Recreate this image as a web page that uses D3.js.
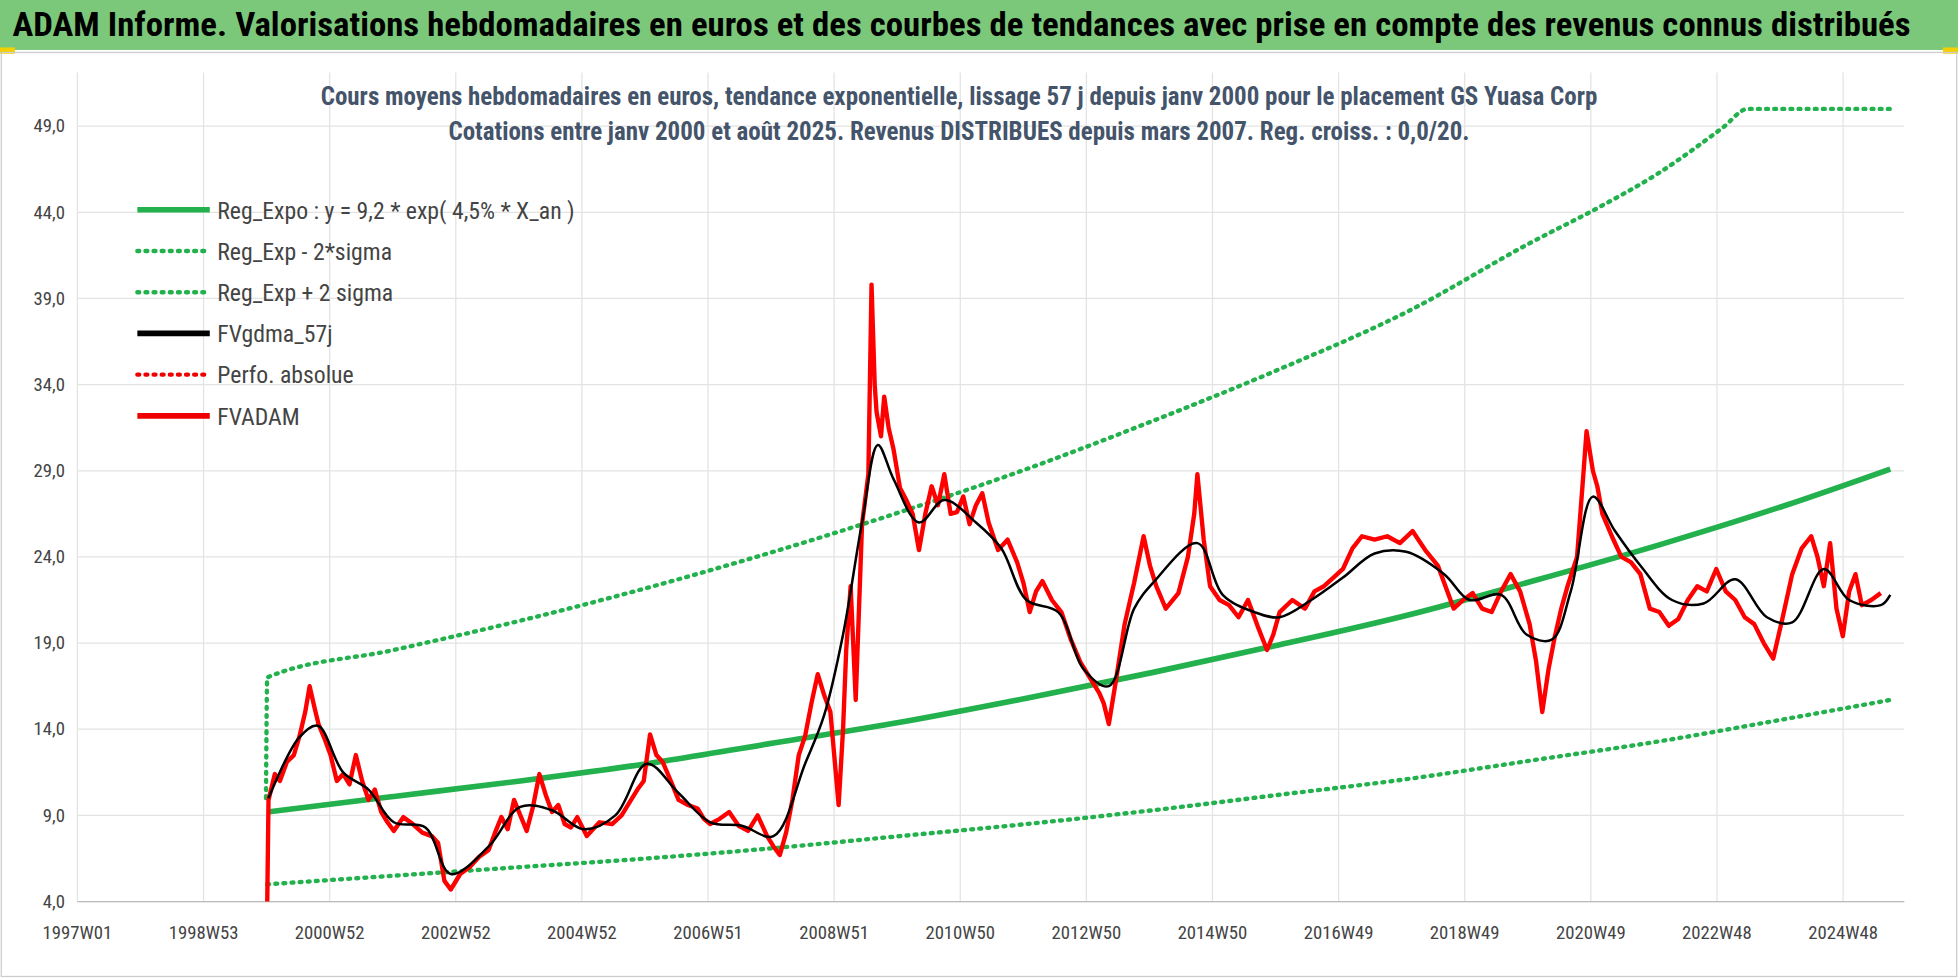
<!DOCTYPE html><html><head><meta charset="utf-8"><script src="https://d3js.org/d3.v7.min.js"></script>
<style>body{margin:0;background:#fff}text{font-family:"Liberation Sans Narrow","Roboto Condensed","Liberation Sans",sans-serif}</style></head><body>
<svg id="c" width="1958" height="978"></svg>
<script>
const xTickLabels=["1997W01","1998W53","2000W52","2002W52","2004W52","2006W51","2008W51","2010W50","2012W50","2014W50","2016W49","2018W49","2020W49","2022W48","2024W48"];
const yTicks=[4,9,14,19,24,29,34,39,44,49];
const redYears=[2000.0,2000.02,2000.12,2000.2,2000.31,2000.42,2000.51,2000.6,2000.67,2000.75,2000.81,2000.9,2001.0,2001.1,2001.2,2001.3,2001.4,2001.5,2001.6,2001.7,2001.8,2001.9,2002.0,2002.15,2002.3,2002.45,2002.6,2002.7,2002.8,2002.9,2003.05,2003.2,2003.35,2003.5,2003.6,2003.7,2003.8,2003.9,2004.0,2004.1,2004.2,2004.3,2004.4,2004.5,2004.6,2004.7,2004.8,2004.9,2005.05,2005.25,2005.45,2005.6,2005.75,2005.85,2005.95,2006.05,2006.15,2006.25,2006.4,2006.5,2006.65,2006.8,2006.9,2007.0,2007.15,2007.3,2007.45,2007.6,2007.75,2007.9,2008.0,2008.1,2008.2,2008.3,2008.4,2008.5,2008.6,2008.7,2008.8,2008.9,2009.03,2009.1,2009.15,2009.22,2009.3,2009.4,2009.5,2009.55,2009.6,2009.63,2009.7,2009.75,2009.82,2009.9,2010.0,2010.1,2010.2,2010.3,2010.4,2010.5,2010.6,2010.7,2010.8,2010.9,2011.0,2011.1,2011.2,2011.3,2011.4,2011.55,2011.7,2011.85,2011.95,2012.05,2012.15,2012.25,2012.4,2012.55,2012.7,2012.85,2013.0,2013.15,2013.22,2013.3,2013.42,2013.55,2013.7,2013.85,2013.95,2014.05,2014.2,2014.4,2014.55,2014.65,2014.7,2014.8,2014.9,2015.05,2015.2,2015.35,2015.5,2015.65,2015.8,2015.9,2016.0,2016.2,2016.4,2016.55,2016.7,2016.85,2017.0,2017.15,2017.3,2017.5,2017.7,2017.9,2018.1,2018.3,2018.5,2018.62,2018.75,2018.9,2019.05,2019.2,2019.35,2019.5,2019.65,2019.8,2019.95,2020.05,2020.15,2020.25,2020.35,2020.45,2020.55,2020.7,2020.8,2020.85,2020.95,2021.02,2021.1,2021.25,2021.4,2021.55,2021.7,2021.85,2022.0,2022.15,2022.3,2022.45,2022.6,2022.75,2022.9,2023.05,2023.2,2023.35,2023.5,2023.65,2023.8,2023.95,2024.1,2024.25,2024.4,2024.5,2024.6,2024.7,2024.8,2024.9,2025.0,2025.1,2025.2,2025.35,2025.5,2025.65];
const redValues=[4,9.9,11.4,11.0,12.1,12.5,13.6,15.0,16.5,15.2,14.3,13.5,12.5,11.0,11.4,10.8,12.5,11.0,9.9,10.5,9.2,8.6,8.1,8.9,8.5,8.0,7.8,7.4,5.2,4.7,5.6,6.0,6.6,7.0,8.0,8.9,8.2,9.9,9.0,8.1,9.5,11.4,10.2,9.2,9.6,8.5,8.3,8.9,7.8,8.6,8.5,9.0,9.9,10.5,11.0,13.7,12.5,12.1,10.8,9.9,9.6,9.4,8.8,8.5,8.8,9.2,8.4,8.1,9.0,7.8,7.2,6.7,8.0,9.9,12.5,13.6,15.5,17.2,16.0,15.0,9.6,14.0,18.6,22.3,15.7,25.9,28.8,39.8,34.0,32.4,31.0,33.3,31.5,30.2,28.0,27.3,26.5,24.4,26.5,28.1,27.0,28.8,26.5,26.6,27.5,25.9,27.0,27.7,26.0,24.4,25.0,23.7,22.5,20.8,22.0,22.6,21.5,20.8,19.2,17.9,17.0,16.1,15.5,14.3,17.0,20.1,22.5,25.2,23.5,22.3,21.0,21.9,24.0,26.5,28.8,25.0,22.3,21.5,21.2,20.5,21.5,20.0,18.6,19.5,20.8,21.5,21.0,22.0,22.3,22.8,23.3,24.5,25.2,25.0,25.2,24.8,25.5,24.4,23.5,22.3,21.0,21.5,21.9,21.0,20.8,22.0,23.0,22.0,20.1,18.0,15.0,17.5,19.4,21.0,22.3,24.0,28.8,31.3,29.0,28.1,26.5,25.2,24.0,23.7,23.0,21.0,20.8,20.0,20.4,21.5,22.3,22.0,23.3,22.0,21.5,20.5,20.1,19.0,18.1,20.5,23.0,24.5,25.2,24.0,22.3,24.8,21.0,19.4,22.0,23.0,21.2,21.5,21.9];
const blackYears=[2000.02,2000.5,2000.8,2001.2,2001.6,2002.0,2002.5,2002.9,2003.5,2004.0,2004.5,2005.0,2005.5,2006.0,2006.5,2007.0,2007.5,2008.0,2008.5,2008.8,2009.1,2009.4,2009.65,2009.9,2010.3,2010.7,2011.2,2011.6,2012.0,2012.5,2012.9,2013.3,2013.7,2014.0,2014.7,2015.1,2015.6,2016.0,2016.5,2017.0,2017.5,2018.0,2018.6,2019.0,2019.5,2019.9,2020.3,2020.6,2020.95,2021.3,2021.7,2022.2,2022.7,2023.2,2023.7,2024.1,2024.6,2025.0,2025.5,2025.65];
const blackValues=[10,13.5,14.2,11.5,10.5,8.6,8.3,5.6,7.2,9.5,9.3,8.2,9.0,12.0,10.3,8.6,8.4,7.8,12,14.8,19.5,26,30.5,28.5,26,27.3,26,24.5,21.5,20.8,17.5,16.5,21,22.5,24.8,21.8,20.8,20.5,21.5,22.8,24.2,24.3,23,21.5,21.8,19.5,19.2,22,27.5,25.5,23.5,21.5,21.3,22.7,20.5,20.2,23.3,21.5,21.2,21.8];
const trendYears=[2000,2002,2004,2006,2008,2010,2012,2014,2016,2018,2020,2022,2024,2025.65];
const trendValues=[9.2,10.1,11.0,12.0,13.2,14.4,15.8,17.3,18.9,20.6,22.6,24.7,27.0,29.1];
const lowValues=[5.0,5.5,6.0,6.5,7.1,7.8,8.5,9.3,10.2,11.1,12.2,13.3,14.6,15.7];
const highYears=[1999.98,2000,2002,2004,2006,2008,2010,2012,2014,2016,2018,2020,2021,2022,2023,2023.4,2024,2025.65];
const highValues=[10,17.0,18.6,20.3,22.2,24.3,26.6,29.1,31.9,34.9,38.2,42.3,44.2,46.3,48.9,50,50,50];
const legendItems=[["Reg_Expo : y = 9,2 * exp( 4,5% *  X_an )","#22b14c","solid"],["Reg_Exp - 2*sigma","#22b14c","dot"],["Reg_Exp + 2 sigma","#22b14c","dot"],["FVgdma_57j","#000","solid"],["Perfo. absolue","#e00","dot"],["FVADAM","#e00","solid"]];

const svg=d3.select("#c").append("g").attr("transform","scale(1.2487)");
svg.append("rect").attr("x",0).attr("y",0).attr("width",1568).attr("height",40).attr("fill","#7cc87a");
svg.append("rect").attr("x",0).attr("y",38).attr("width",12).attr("height",5).attr("fill","#f5d000");
svg.append("rect").attr("x",1556).attr("y",38).attr("width",12).attr("height",5).attr("fill","#f5d000");
svg.append("text").attr("x",10).attr("y",29).attr("font-size",27).attr("font-weight","bold").attr("fill","#000")
 .attr("textLength",1520).attr("lengthAdjust","spacingAndGlyphs")
 .text("ADAM Informe. Valorisations hebdomadaires en euros et des courbes de tendances avec prise en compte des revenus connus distribués");
svg.append("rect").attr("x",1).attr("y",42).attr("width",1566).attr("height",740).attr("fill","none").attr("stroke","#ccc");

const L=62,R=1525,T=58,B=722;
const x=d3.scaleLinear().domain([1997,1997+14*104*7/365.25]).range([L,L+14*101]);
const y=d3.scaleLinear().domain([4,52]).range([B,B-48*13.8]);
const g=svg.append("g");
xTickLabels.forEach((t,i)=>{const xv=x(1997+i*104*7/365.25);
 g.append("line").attr("x1",xv).attr("x2",xv).attr("y1",T).attr("y2",B).attr("stroke","#e3e3e3");
 g.append("text").attr("x",xv).attr("y",B+30).attr("text-anchor","middle").attr("font-size",15).attr("fill","#444").text(t);});
yTicks.forEach(v=>{g.append("line").attr("x1",L).attr("x2",R).attr("y1",y(v)).attr("y2",y(v)).attr("stroke","#e3e3e3");
 g.append("text").attr("x",L-10).attr("y",y(v)+5).attr("text-anchor","end").attr("font-size",15).attr("fill","#444").text(d3.format(".1f")(v).replace(".",","));});
g.append("line").attr("x1",L).attr("x2",R).attr("y1",B).attr("y2",B).attr("stroke","#bbb");

const line=(xs,vs,c)=>d3.line().x((d,i)=>x(xs[i])).y(d=>y(d)).curve(c||d3.curveLinear)(vs);
const tc=d3.curveMonotoneX;
g.append("path").attr("d",line(highYears,highValues,tc)).attr("fill","none").attr("stroke","#22b14c").attr("stroke-width",3.5).attr("stroke-dasharray","1.5 5").attr("stroke-linecap","round");
g.append("path").attr("d",line(trendYears,lowValues,tc)).attr("fill","none").attr("stroke","#22b14c").attr("stroke-width",3.5).attr("stroke-dasharray","1.5 5").attr("stroke-linecap","round");
g.append("path").attr("d",line(trendYears,trendValues,tc)).attr("fill","none").attr("stroke","#22b14c").attr("stroke-width",4.5);
g.append("path").attr("d",line(redYears,redValues)).attr("fill","none").attr("stroke","#f00").attr("stroke-width",3.5).attr("stroke-linejoin","round");
g.append("path").attr("d",line(blackYears,blackValues,d3.curveCatmullRom)).attr("fill","none").attr("stroke","#000").attr("stroke-width",2);

svg.append("text").attr("x",768).attr("y",84).attr("text-anchor","middle").attr("font-size",20).attr("font-weight","bold").attr("fill","#44546a").text("Cours moyens hebdomadaires en euros, tendance exponentielle, lissage 57 j depuis janv 2000 pour le placement GS Yuasa Corp");
svg.append("text").attr("x",768).attr("y",112).attr("text-anchor","middle").attr("font-size",20).attr("font-weight","bold").attr("fill","#44546a").text("Cotations entre janv 2000 et août 2025. Revenus DISTRIBUES depuis mars 2007. Reg. croiss. : 0,0/20.");
legendItems.forEach((it,i)=>{const yy=168+i*33;
 svg.append("line").attr("x1",110).attr("x2",168).attr("y1",yy).attr("y2",yy).attr("stroke",it[1]).attr("stroke-width",it[2]=="dot"?3.5:4.5)
  .attr("stroke-dasharray",it[2]=="dot"?"1.5 5":null).attr("stroke-linecap",it[2]=="dot"?"round":"butt");
 svg.append("text").attr("x",174).attr("y",yy+7).attr("font-size",19).attr("fill","#444").text(it[0]);});
</script></body></html>
